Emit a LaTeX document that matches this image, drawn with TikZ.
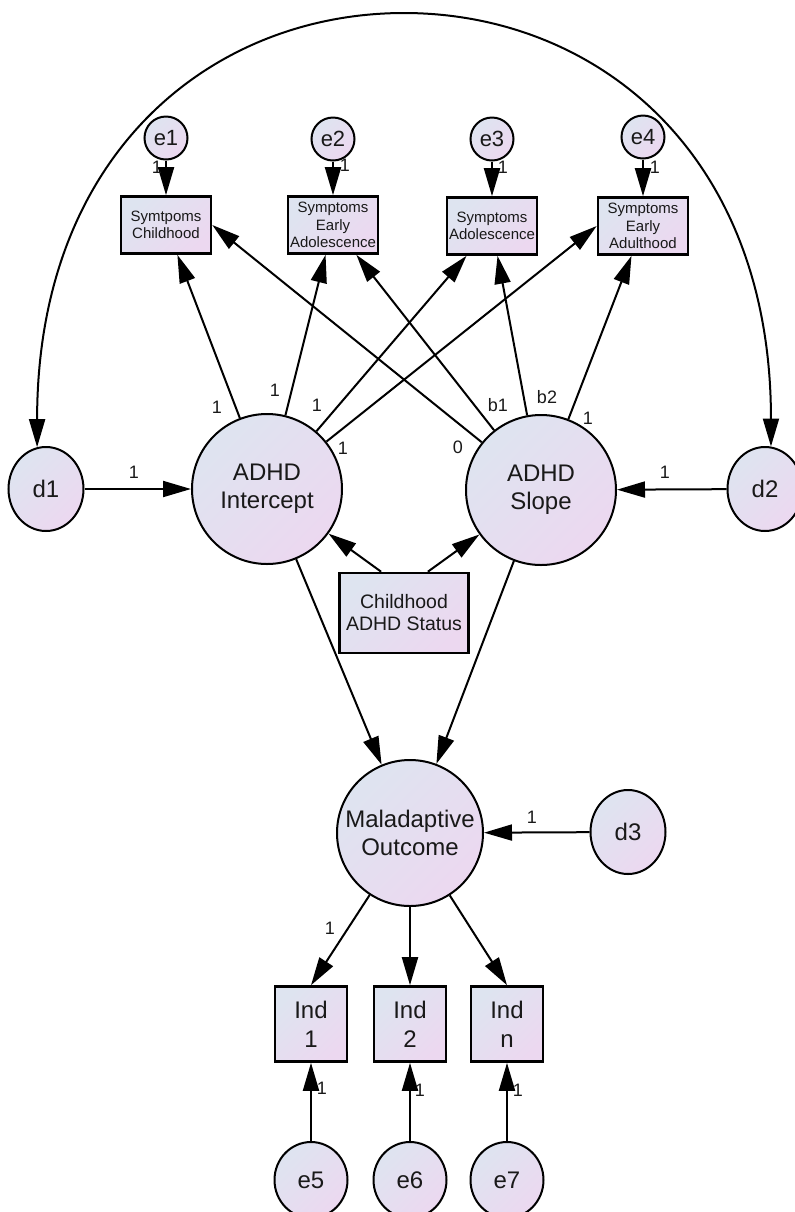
\documentclass[tikz,border=0pt]{standalone}
\usepackage{fontspec}
\setmainfont{Liberation Sans}
\usetikzlibrary{arrows.meta,shapes.geometric}
\definecolor{fillA}{RGB}{222,228,240}
\definecolor{fillB}{RGB}{236,216,240}
\definecolor{txt}{RGB}{25,25,25}
\begin{document}
\begin{tikzpicture}[x=0.5pt,y=-0.5pt,
  shd/.style={top color=fillA,bottom color=fillB,shading angle=45},
  lat/.style={circle,draw,line width=1pt,shd,minimum size=75pt,inner sep=0pt,align=center,
    font=\fontsize{12}{14}\selectfont,text=txt},
  dv/.style={ellipse,draw,line width=1pt,shd,minimum width=37.5pt,minimum height=42pt,inner sep=0pt,
    font=\fontsize{12}{14}\selectfont,text=txt},
  ev/.style={circle,draw,line width=1pt,shd,minimum size=21.5pt,inner sep=0pt,
    font=\fontsize{11}{13}\selectfont,text=txt},
  ev2/.style={ellipse,draw,line width=1pt,shd,minimum width=36.5pt,minimum height=38pt,inner sep=0pt,
    font=\fontsize{12}{14}\selectfont,text=txt},
  tbox/.style={rectangle,draw,line width=1.3pt,shd,minimum width=45pt,minimum height=28.5pt,inner sep=0pt,
    align=center,font=\fontsize{7.5}{8.8}\selectfont,text=txt},
  cbox/.style={rectangle,draw,line width=1.3pt,shd,minimum width=64.5pt,minimum height=40pt,inner sep=0pt,
    align=center,font=\fontsize{9.75}{11}\selectfont,text=txt},
  ibox/.style={rectangle,draw,line width=1.3pt,shd,minimum width=36pt,minimum height=37.5pt,inner sep=0pt,
    align=center,font=\fontsize{12}{14.5}\selectfont,text=txt},
  arr/.style={-{Triangle[length=14pt,width=8pt]},line width=1pt},
  darr/.style={{Triangle[length=14pt,width=8pt]}-{Triangle[length=14pt,width=8pt]},line width=1pt},
  lab/.style={font=\fontsize{9}{10}\selectfont,text=txt,inner sep=0pt}
]
\useasboundingbox (0,0) rectangle (795,1212);

% latent variables
\node[lat] (I) at (267,489) {ADHD\\Intercept};
\node[lat] (S) at (541,490) {ADHD\\Slope};
\node[lat,minimum size=73pt] (M) at (410,833) {Maladaptive\\Outcome};
\node[dv] (d1) at (46,489) {d1};
\node[dv] (d2) at (765,489) {d2};
\node[dv] (d3) at (628,832) {d3};

% observed symptom boxes
\node[tbox] (b1) at (166,225) {Symtpoms\\Childhood};
\node[tbox] (b2) at (333,225) {Symptoms\\Early\\Adolescence};
\node[tbox] (b3) at (492,226) {Symptoms\\Adolescence};
\node[tbox] (b4) at (643,226) {Symptoms\\Early\\Adulthood};
\node[ev] (e1) at (166,138) {e1};
\node[ev] (e2) at (333,139) {e2};
\node[ev] (e3) at (492,139) {e3};
\node[ev] (e4) at (643,137) {e4};

% covariate
\node[cbox] (C) at (404,613) {Childhood\\ADHD Status};

% indicators
\node[ibox] (n1) at (311,1024) {Ind\\1};
\node[ibox] (n2) at (410,1024) {Ind\\2};
\node[ibox] (n3) at (507,1024) {Ind\\n};
\node[ev2] (e5) at (311,1180) {e5};
\node[ev2] (e6) at (410,1180) {e6};
\node[ev2] (e7) at (507,1180) {e7};

% covariance arc
\coordinate (top) at (404,13);
\draw[darr] (d1.102) .. controls (37,150) and (215,13) .. (top)
  .. controls (593,13) and (771,150) .. (d2.82);

% error arrows
\foreach \e/\b in {e1/b1,e2/b2,e3/b3,e4/b4}{\draw[arr] (\e) -- (\b);}
\foreach \e/\b in {e5/n1,e6/n2,e7/n3}{\draw[arr] (\e) -- (\b);}

% loadings
\draw[arr] (I) -- (b1);
\draw[arr] (I) -- (b2);
\draw[arr] (I) -- (b3);
\draw[arr] (I) -- (b4.west);
\draw[arr] (S) -- (b1.east);
\draw[arr] (S) -- (b2);
\draw[arr] (S) -- (b3);
\draw[arr] (S) -- (b4);

% disturbances
\draw[arr] (d1) -- (I);
\draw[arr] (d2) -- (S);
\draw[arr] (d3) -- (M);

% covariate effects
\draw[arr] (C.119) -- (I);
\draw[arr] (C.60) -- (S);

% structural paths
\draw[arr] (I) -- (M);
\draw[arr] (S) -- (M);

% measurement of outcome
\draw[arr] (M) -- (n1.north);
\draw[arr] (M) -- (n2);
\draw[arr] (M) -- (n3.north);

% labels
\node[lab] (l1) at (217,407) {1};
\node[lab] (l2) at (275,390) {1};
\node[lab] (l3) at (317,405) {1};
\node[lab] (l4) at (343,448) {1};
\node[lab] (l5) at (458,447) {0};
\node[lab] (l6) at (498,405) {b1};
\node[lab] (l7) at (547,397) {b2};
\node[lab] (l8) at (588,418) {1};
\node[lab] (l9) at (134,472) {1};
\node[lab] (l10) at (665,472) {1};
\node[lab] (l11) at (532,817) {1};
\node[lab] (l12) at (330,928) {1};
\node[lab] (l13) at (157,167) {1};
\node[lab] (l14) at (345,165) {1};
\node[lab] (l15) at (503,167) {1};
\node[lab] (l16) at (655,167) {1};
\node[lab] (l17) at (322,1088) {1};
\node[lab] (l18) at (420,1090) {1};
\node[lab] (l19) at (518,1090) {1};
\end{tikzpicture}
\end{document}
